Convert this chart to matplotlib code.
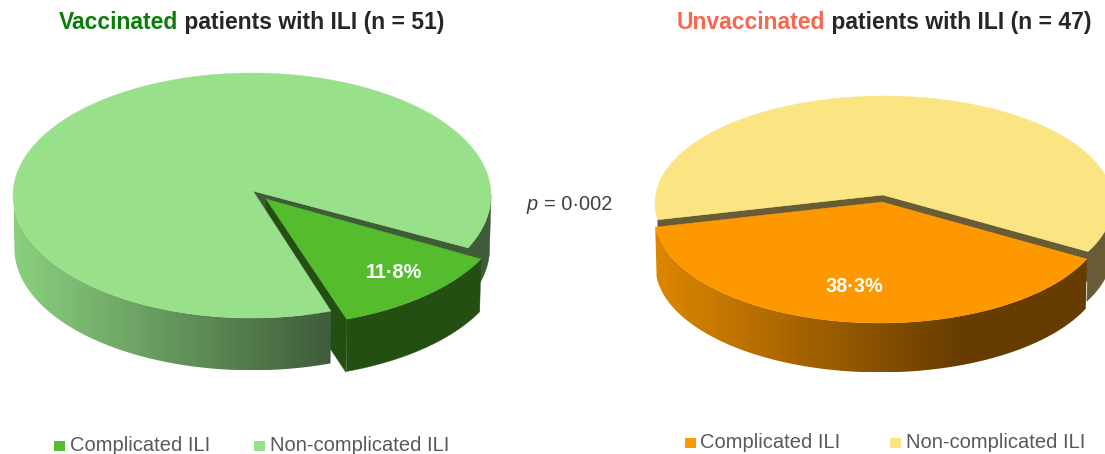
#!/usr/bin/env python
# -*- coding: utf-8 -*-

import numpy as np
import matplotlib
matplotlib.use("Agg")
import matplotlib.pyplot as plt
from matplotlib.colors import LinearSegmentedColormap
from matplotlib.patches import Polygon, Rectangle

# Chart data
vaccinated_pct = [11.8, 88.2]
unvaccinated_pct = [38.3, 61.7]
legend_labels = ["Complicated ILI", "Non-complicated ILI"]
vaccinated_title = ["Vaccinated", " patients with ILI (n = 51)"]
unvaccinated_title = ["Unvaccinated", " patients with ILI (n = 47)"]
p_value = "0·002"

W, H = 1105, 454
FONT = "Liberation Sans"

fig = plt.figure(figsize=(W / 100, H / 100), dpi=100)
ax = fig.add_axes([0, 0, 1, 1])
ax.set_xlim(0, W)
ax.set_ylim(H, 0)
ax.axis("off")


def arc(e, t1, t2, drop=0, taper=1.0):
    # Points along an ellipse, angles in degrees, positive is down the screen
    t = np.radians(np.linspace(t1, t2, 200))
    x = e["cx"] + e["rx"] * taper * np.cos(t)
    y = e["cy"] + e["ry"] * taper * np.sin(t) + drop
    return np.column_stack([x, y])


def fill(points, color, z):
    ax.add_patch(Polygon(points, closed=True, fc=color, ec=color, lw=0.3, zorder=z))


def side(e, t1, t2, depth, z, color=None, gradient=None, grad_x=None):
    # Outer wall of a slice, flat colour or left-to-right gradient
    top = arc(e, t1, t2)
    bottom = arc(e, t1, t2, drop=depth, taper=0.994)
    pts = np.vstack([top, bottom[::-1]])
    if gradient is None:
        fill(pts, color, z)
        return
    poly = Polygon(pts, closed=True, fc="none", ec="none", transform=ax.transData)
    ax.add_patch(poly)
    cmap = LinearSegmentedColormap.from_list("side", gradient)
    img = ax.imshow(np.linspace(0, 1, 256).reshape(1, -1), cmap=cmap, aspect="auto",
                    extent=[grad_x[0], grad_x[1], pts[:, 1].max(), pts[:, 1].min()], zorder=z)
    img.set_clip_path(poly)
    ax.set_xlim(0, W)
    ax.set_ylim(H, 0)


def wall(apex, edge_pt, depth, color, z):
    # Flat cut face of a slice going from the centre to the rim
    fill([apex, edge_pt, (edge_pt[0], edge_pt[1] + depth), (apex[0], apex[1] + depth)], color, z)


def text_width(s, size, weight, style, renderer):
    t = ax.text(0, 0, s.replace(" ", "\u00a0"), fontsize=size, family=FONT, weight=weight, style=style)
    w = t.get_window_extent(renderer).width
    t.remove()
    return w


def draw_parts(x, y, parts, size, weight="normal"):
    # Runs of differently styled text on one baseline
    renderer = fig.canvas.get_renderer()
    for s, color, style in parts:
        ax.text(x, y, s, fontsize=size, color=color, family=FONT, weight=weight,
                style=style, va="baseline", ha="left", zorder=10)
        x += text_width(s, size, weight, style, renderer)


# Vaccinated pie
green_light = "#98e08a"
green_mid = "#55bd2d"
green_wall = "#3e5c38"
green_dark = "#254e12"

main_l = {"cx": 252, "cy": 195.5, "rx": 239, "ry": 122.5}
apex_l = (253, 191)
cut_a, cut_b = 25.3, 70.7
wedge_l = {"cx": 268, "cy": 203.5, "rx": 239, "ry": 122.5}
tip_l = (266, 199)
w_a = 27
w_b = w_a + vaccinated_pct[0] * 3.6 * 1.03
depth_l = 53

wall(apex_l, arc(main_l, cut_a, cut_a)[0], 30, green_wall, 1)
p_b = arc(wedge_l, w_b, w_b)[0]
fill([tip_l, p_b, (p_b[0] - 1, p_b[1] + depth_l), (tip_l[0], tip_l[1] + depth_l)], green_dark, 1.5)
side(main_l, cut_b, 180, depth_l, 2, gradient=["#8ad07e", "#3f5c3b"], grad_x=(14, 331))
side(main_l, 0, cut_a, depth_l, 2, color=green_wall)
fill(np.vstack([[apex_l], arc(main_l, cut_b, cut_a + 360)]), green_light, 3)
side(wedge_l, w_a, w_b, depth_l, 4, color=green_dark)
fill(np.vstack([[tip_l], arc(wedge_l, w_a, w_b)]), green_mid, 5)

# Unvaccinated pie
yellow_light = "#fbe582"
yellow_wall = "#675c36"
orange = "#fd9800"

main_r = {"cx": 884, "cy": 203, "rx": 229, "ry": 107}
apex_r = (883, 195)
cut_c, cut_d = 27, 171
wedge_r = {"cx": 880, "cy": 216, "rx": 226, "ry": 107}
tip_r = (882, 202)
o_a = 23.7
o_b = o_a + unvaccinated_pct[0] * 3.6 * 1.09
depth_r = 50

side(main_r, 0, cut_c, depth_r, 2, color=yellow_wall)
wall(apex_r, arc(main_r, cut_c, cut_c)[0], 30, yellow_wall, 2)
wall(apex_r, arc(main_r, cut_d, cut_d)[0], 30, yellow_wall, 2)
fill(np.vstack([[apex_r], arc(main_r, cut_d, cut_c + 360)]), yellow_light, 3)
side(wedge_r, o_a, o_b, depth_r, 4,
     gradient=[(0, "#de8700"), (0.7, "#683d00"), (1, "#663c00")], grad_x=(655, 1087))
fill(np.vstack([[tip_r], arc(wedge_r, o_a, o_b)]), orange, 5)

# Slice labels
for x, y, val in [(394, 272, vaccinated_pct[0]), (854, 287, unvaccinated_pct[0])]:
    ax.text(x, y, f"{val}%".replace(".", "·"), color="white", fontsize=14.3, weight="bold",
            family=FONT, ha="center", va="center", zorder=10)

# Titles
dark = "#262626"
fig.canvas.draw()
draw_parts(59, 29, [(vaccinated_title[0], "#0a7d0a", "normal"),
                    (vaccinated_title[1], dark, "normal")], 16.5, "bold")
draw_parts(677, 29, [(unvaccinated_title[0], "#f8674f", "normal"),
                     (unvaccinated_title[1], dark, "normal")], 16.5, "bold")

# p value between the pies
draw_parts(527, 210, [("p ", "#404040", "italic"), ("= " + p_value, "#404040", "normal")], 14.4)

# Legends
grey = "#595959"
legend_rows = [
    (54, 254, 446, [green_mid, green_light]),
    (685, 890, 443, [orange, yellow_light]),
]
for x1, x2, y, cols in legend_rows:
    for x, col, label in zip((x1, x2), cols, legend_labels):
        ax.add_patch(Rectangle((x, y - 5.5), 10.5, 10.5, fc=col, ec="none", zorder=10))
        ax.text(x + 15.5, y + 5, label, color=grey, fontsize=14.5, family=FONT,
                va="baseline", ha="left", zorder=10)

fig.savefig("out.png", dpi=100, facecolor="white")
